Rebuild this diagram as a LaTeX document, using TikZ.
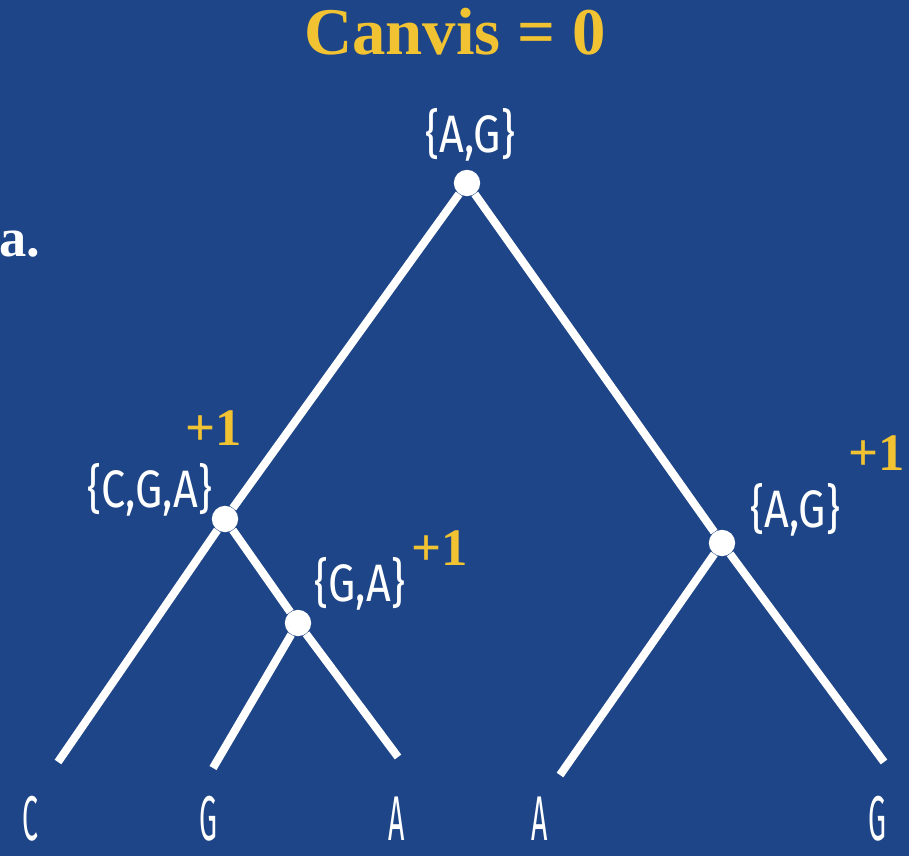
\documentclass[tikz,border=0pt]{standalone}
\usepackage{fontspec}
\setmainfont{Liberation Serif}
\newfontfamily\handfont[FakeStretch=0.82]{Fira Sans}
\newfontfamily\leaffont[FakeStretch=0.45]{Fira Sans}
\definecolor{bgblue}{RGB}{29,69,135}
\definecolor{mustard}{RGB}{241,194,50}

\tikzset{
  branch/.style={white,line width=4.6pt},
  dot/.style={circle,fill=white,inner sep=0pt,minimum size=15pt},
  setlabel/.style={white,font=\handfont\fontsize{30}{34}\selectfont,inner sep=0pt},
  leaflabel/.style={white,font=\leaffont\fontsize{36}{40}\selectfont,inner sep=0pt},
  plusone/.style={mustard,font=\bfseries\fontsize{30}{32}\selectfont,inner sep=0pt}
}

\begin{document}
\begin{tikzpicture}[x=0.02cm,y=-0.02cm]
\fill[bgblue] (0,0) rectangle (909,856);
\useasboundingbox (0,0) rectangle (909,856);
% title and panel letter
\node[mustard,font=\bfseries\fontsize{38}{42}\selectfont] (title) at (455,32) {Canvis = 0};
\node[white,font=\bfseries\fontsize{31}{34}\selectfont] (panel) at (20,244) {a.};
% internal nodes
\node[dot] (root) at (467,183) {};
\node[dot] (cga) at (225,519) {};
\node[dot] (ga) at (298,623) {};
\node[dot] (ag) at (722,543) {};
% free ends of the branches
\coordinate (endC) at (58,762);
\coordinate (endG) at (213,768);
\coordinate (endA) at (398,757);
\coordinate (endA2) at (560,775);
\coordinate (endG2) at (884,762);
% branches
\draw[branch] (root) -- (cga);
\draw[branch] (cga) -- (endC);
\draw[branch] (cga) -- (ga);
\draw[branch] (ga) -- (endG);
\draw[branch] (ga) -- (endA);
\draw[branch] (root) -- (ag);
\draw[branch] (ag) -- (endA2);
\draw[branch] (ag) -- (endG2);
% sets
\node[setlabel] (rootset) at (470,135) {\{A,G\}};
\node[setlabel] (cgaset) at (150,490) {\{C,G,A\}};
\node[setlabel] (gaset) at (360,584) {\{G,A\}};
\node[setlabel] (agset) at (795,510) {\{A,G\}};
% changes
\node[plusone] (cgaplus) at (214,428) {+1};
\node[plusone] (gaplus) at (440,548) {+1};
\node[plusone] (agplus) at (877,453) {+1};
% leaves
\node[leaflabel] (leafC) at (30,819) {C};
\node[leaflabel] (leafG) at (208,819) {G};
\node[leaflabel] (leafA) at (397,819) {A};
\node[leaflabel] (leafA2) at (540,819) {A};
\node[leaflabel] (leafG2) at (877,819) {G};
\end{tikzpicture}
\end{document}
